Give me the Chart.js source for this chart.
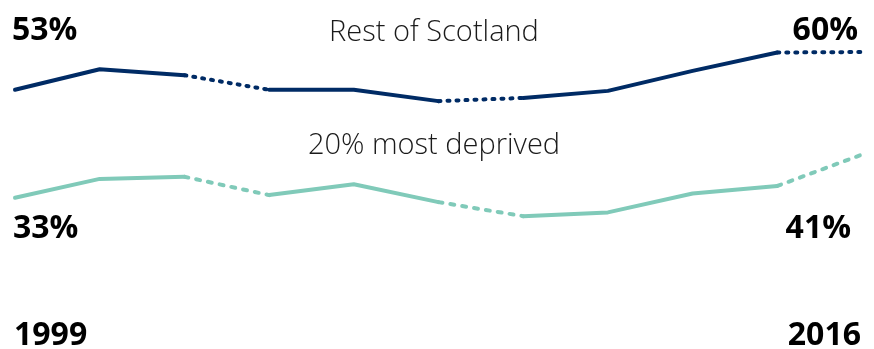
<!DOCTYPE html>
<html>
<head>
<meta charset="utf-8">
<script src="https://cdn.jsdelivr.net/npm/chart.js@4/dist/chart.umd.min.js"></script>
<style>
  html, body { margin: 0; padding: 0; background: #fff; }
  #wrap { width: 874px; height: 349px; }
</style>
</head>
<body>
<div id="wrap"><canvas id="trendChart" width="874" height="349"></canvas></div>
<script>
// Survey years (only the first and last are labelled)
const years = ['1999', '2001', '2003', '2005', '2007', '2009', '2011', '2012', '2013', '2014', '2016'];

// Percentages per year
const restOfScotland = [53, 56.8, 55.7, 53.0, 53.0, 50.9, 51.5, 52.8, 56.5, 59.9, 60];
const mostDeprived = [33, 36.5, 36.9, 33.5, 35.5, 32.2, 29.6, 30.3, 33.8, 35.2, 41];

const seriesNames = ['Rest of Scotland', '20% most deprived'];

// Segments starting at these indices cross a break in the survey series
const surveyBreaks = [2, 5, 9];

const NAVY = '#002b65';
const TEAL = '#80cab9';

const dashed = (pattern) => (ctx) => surveyBreaks.includes(ctx.p0DataIndex) ? pattern : undefined;

// Draws the end values, series names and first/last year
const trendLabels = {
    id: 'trendLabels',
    afterDatasetsDraw(chart) {
        const { ctx, scales } = chart;
        const last = years.length - 1;
        const x0 = scales.x.getPixelForValue(0);
        const x1 = scales.x.getPixelForValue(last);

        ctx.save();
        ctx.fillStyle = '#000';
        ctx.textBaseline = 'alphabetic';
        ctx.font = 'bold 32px "Open Sans"';

        ctx.textAlign = 'left';
        ctx.fillText(restOfScotland[0] + '%', x0 - 3, 40);
        ctx.fillText(mostDeprived[0] + '%', x0 - 2, 238);
        ctx.fillText(years[0], x0 - 1, 345);

        ctx.textAlign = 'right';
        ctx.fillText(restOfScotland[last] + '%', x1 - 4, 40);
        ctx.fillText(mostDeprived[last] + '%', x1 - 11, 238);
        ctx.fillText(years[last], x1 - 1, 345);

        ctx.font = '300 29px "Open Sans"';
        ctx.fillStyle = '#1a1a1a';
        ctx.textAlign = 'center';
        ctx.fillText(seriesNames[0], 434, 41);
        ctx.fillText(seriesNames[1], 434, 154);
        ctx.restore();
    }
};

function buildChart() {
    const ctx = document.getElementById('trendChart').getContext('2d');

    new Chart(ctx, {
        type: 'line',
        data: {
            labels: years,
            datasets: [
                {
                    label: seriesNames[0],
                    data: restOfScotland,
                    borderColor: NAVY,
                    borderWidth: 4,
                    segment: { borderDash: dashed([2, 7]) }
                },
                {
                    label: seriesNames[1],
                    data: mostDeprived,
                    borderColor: TEAL,
                    borderWidth: 4,
                    segment: { borderDash: dashed([4, 8]) }
                }
            ]
        },
        options: {
            responsive: false,
            animation: false,
            clip: false,
            layout: { padding: { left: 15, right: 12, top: 0, bottom: 0 } },
            elements: {
                point: { radius: 0, hoverRadius: 0 },
                line: { tension: 0, borderCapStyle: 'round', borderJoinStyle: 'round' }
            },
            plugins: {
                legend: { display: false },
                tooltip: { enabled: false }
            },
            scales: {
                x: { display: false, offset: false },
                y: { display: false, min: 5, max: 69.63 }
            }
        },
        plugins: [trendLabels]
    });
}

Promise.all([
    document.fonts.load('bold 32px "Open Sans"'),
    document.fonts.load('300 29px "Open Sans"')
]).catch(() => {}).then(buildChart);
</script>
</body>
</html>
